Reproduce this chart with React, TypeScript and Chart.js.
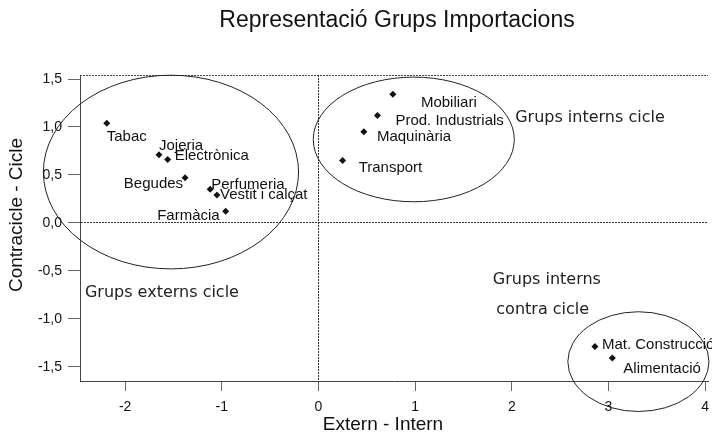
import { useEffect, useRef } from 'react';
import { Chart, registerables } from 'chart.js';

Chart.register(...registerables);

// ---- data ----
const groupNames = [
  'Tabac', 'Jojeria', 'Electrònica', 'Begudes', 'Perfumeria', 'Vestit i calçat', 'Farmàcia',
  'Mobiliari', 'Prod. Industrials', 'Maquinària', 'Transport',
  'Mat. Construcció', 'Alimentació',
];
const externIntern = [-2.19, -1.65, -1.56, -1.38, -1.12, -1.05, -0.96, 0.77, 0.61, 0.47, 0.25, 2.86, 3.04];
const contraCicle = [1.04, 0.71, 0.66, 0.47, 0.35, 0.29, 0.12, 1.34, 1.12, 0.95, 0.65, -1.29, -1.41];
const xTickValues = [-2, -1, 0, 1, 2, 3, 4];
const yTickValues = [-1.5, -1, -0.5, 0, 0.5, 1, 1.5];

const titleText = 'Representació Grups Importacions';
const xTitle = 'Extern - Intern';
const yTitle = 'Contracicle - Cicle';

// cluster ellipses (data units): centre x, centre y, radius x, radius y
const clusterCx = [-1.526, 0.986, 3.31];
const clusterCy = [0.53, 0.87, -1.447];
const clusterRx = [1.32, 1.04, 0.73];
const clusterRy = [1.01, 0.65, 0.52];

// group annotation texts (data units)
const groupTexts = ['Grups interns cicle', 'Grups externs cicle', 'Grups interns', 'contra cicle'];
const groupTextX = [2.035, -2.416, 2.363, 2.32];
const groupTextY = [1.094, -0.731, -0.595, -0.908];
const groupTextAlign: CanvasTextAlign[] = ['left', 'left', 'center', 'center'];

// label offsets in pixels relative to the marker (style, not data)
const labelDx = [0, 0, 7, -2, 1, 3, -6, 28, 18, 13, 16, 7, 11];
const labelDy = [14, -9, -4, 6, -4, 0, 4, 8, 5, 5, 7, -2, 11];
const labelAlign: CanvasTextAlign[] = ['left', 'left', 'left', 'right', 'left', 'left', 'right', 'left', 'left', 'left', 'left', 'left', 'left'];

const ARIAL = '"Liberation Sans", Arial, sans-serif';
const DEJAVU = '"DejaVu Sans", Verdana, sans-serif';

const overlayPlugin = {
  id: 'overlay',
  afterDraw(chart: any) {
    const { ctx, chartArea: a } = chart;
    const xs = chart.scales.x;
    const ys = chart.scales.y;
    ctx.save();

    // top frame line
    ctx.strokeStyle = '#444';
    ctx.lineWidth = 1;
    ctx.setLineDash([2, 1]);
    ctx.beginPath();
    ctx.moveTo(a.left, Math.round(a.top) + 0.5);
    ctx.lineTo(a.right, Math.round(a.top) + 0.5);
    ctx.stroke();
    ctx.setLineDash([]);

    // ellipses
    ctx.strokeStyle = '#222';
    ctx.lineWidth = 1;
    for (let i = 0; i < clusterCx.length; i++) {
      const cx = xs.getPixelForValue(clusterCx[i]);
      const cy = ys.getPixelForValue(clusterCy[i]);
      const rx = Math.abs(xs.getPixelForValue(clusterCx[i] + clusterRx[i]) - cx);
      const ry = Math.abs(ys.getPixelForValue(clusterCy[i] + clusterRy[i]) - cy);
      ctx.beginPath();
      ctx.ellipse(cx, cy, rx, ry, 0, 0, Math.PI * 2);
      ctx.stroke();
    }

    // point labels
    ctx.fillStyle = '#111';
    ctx.font = `15px ${ARIAL}`;
    ctx.textBaseline = 'middle';
    for (let i = 0; i < groupNames.length; i++) {
      const px = xs.getPixelForValue(externIntern[i]);
      const py = ys.getPixelForValue(contraCicle[i]);
      ctx.textAlign = labelAlign[i];
      ctx.fillText(groupNames[i], px + labelDx[i], py + labelDy[i]);
    }

    // group annotations
    ctx.fillStyle = '#222';
    ctx.font = `16px ${DEJAVU}`;
    for (let i = 0; i < groupTexts.length; i++) {
      ctx.textAlign = groupTextAlign[i];
      ctx.fillText(groupTexts[i], xs.getPixelForValue(groupTextX[i]), ys.getPixelForValue(groupTextY[i]));
    }

    // chart title
    ctx.fillStyle = '#111';
    ctx.textAlign = 'center';
    ctx.font = `23px ${ARIAL}`;
    ctx.fillText(titleText, 397, 21);

    // axis titles
    ctx.font = `19px ${ARIAL}`;
    ctx.fillText(xTitle, 383, 425);
    ctx.save();
    ctx.translate(17, 215);
    ctx.rotate(-Math.PI / 2);
    ctx.fillText(yTitle, 0, 0);
    ctx.restore();

    ctx.restore();
  },
};

export default function App() {
  const canvasRef = useRef<HTMLCanvasElement | null>(null);

  useEffect(() => {
    const canvas = canvasRef.current;
    if (!canvas) return;
    const points = externIntern.map((x, i) => ({ x, y: contraCicle[i] }));

    const zeroColor = (c: any) => (c.tick && c.tick.value === 0 ? '#333' : 'rgba(0,0,0,0)');

    const chart = new Chart(canvas, {
      type: 'scatter',
      data: {
        datasets: [
          {
            label: 'Grups',
            data: points,
            pointStyle: 'rectRot',
            pointRadius: 3.5,
            pointBackgroundColor: '#111',
            pointBorderColor: '#111',
            pointBorderWidth: 0,
          },
        ],
      },
      options: {
        animation: false,
        responsive: false,
        layout: { padding: { top: 75, left: 0, right: 0, bottom: 0 } },
        plugins: {
          legend: { display: false },
          tooltip: { enabled: false },
          title: { display: false },
        },
        scales: {
          x: {
            type: 'linear',
            min: -2.467,
            max: 4.03,
            afterBuildTicks: (s: any) => {
              s.ticks = xTickValues.map((v) => ({ value: v }));
            },
            afterFit: (s: any) => {
              s.height = 55;
              s.paddingLeft = 0;
              s.paddingRight = 0;
            },
            ticks: {
              autoSkip: false,
              maxRotation: 0,
              padding: 8,
              color: '#111',
              font: { family: ARIAL, size: 14 },
              callback: (v: any) => String(v),
            },
            grid: {
              drawOnChartArea: true,
              color: zeroColor,
              tickColor: '#666',
              tickLength: 10,
              lineWidth: 1,
            },
            border: { display: true, color: '#444', dash: [2, 1] },
          },
          y: {
            type: 'linear',
            min: -1.649,
            max: 1.542,
            afterBuildTicks: (s: any) => {
              s.ticks = yTickValues.map((v) => ({ value: v }));
            },
            afterFit: (s: any) => {
              s.width = 80;
              s.paddingTop = 0;
              s.paddingBottom = 0;
            },
            ticks: {
              autoSkip: false,
              padding: 6,
              color: '#111',
              font: { family: ARIAL, size: 14 },
              callback: (v: any) => Number(v).toFixed(1).replace('.', ','),
            },
            grid: {
              drawOnChartArea: true,
              color: zeroColor,
              tickColor: '#666',
              tickLength: 12,
              lineWidth: 1,
            },
            border: { display: true, color: '#444', dash: [2, 1] },
          },
        },
      },
      plugins: [overlayPlugin],
    } as any);

    return () => chart.destroy();
  }, []);

  return (
    <div style={{ position: 'fixed', left: 0, top: 0, width: 712, height: 436, background: '#fff' }}>
      <canvas ref={canvasRef} width={712} height={436} style={{ display: 'block' }} />
    </div>
  );
}
